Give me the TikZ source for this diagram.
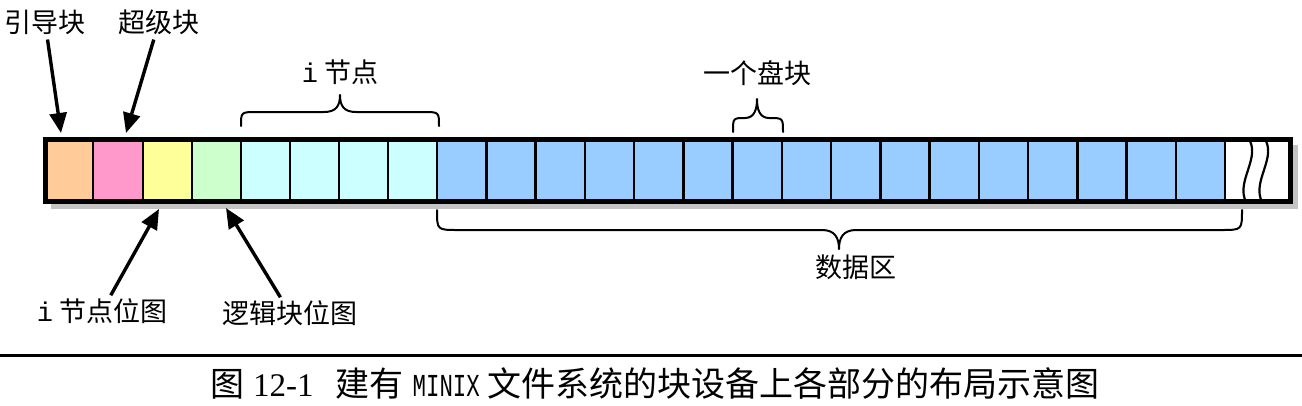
\documentclass[tikz,border=0pt]{standalone}
\usepackage{fontspec}
\setmainfont{Liberation Serif}
\newfontfamily\cjk{Noto Sans CJK SC}
\newfontfamily\monofam{Liberation Mono}
\usetikzlibrary{arrows.meta,calc}
\definecolor{cboot}{HTML}{FFCC99}
\definecolor{csuper}{HTML}{FF99CC}
\definecolor{cimap}{HTML}{FFFF99}
\definecolor{czmap}{HTML}{CCFFCC}
\definecolor{cinode}{HTML}{CCFFFF}
\definecolor{cdata}{HTML}{99CCFF}
\definecolor{cshadow}{HTML}{C4C4C4}
\tikzset{
  cellbox/.style={draw=black, line width=2.5pt},
  lbl/.style={font={\cjk\fontsize{27pt}{30pt}\selectfont}, inner sep=3pt},
  arr/.style={line width=3.4pt, -{Triangle[length=20pt,width=17pt]}},
  bracepath/.style={line width=2pt, line cap=round, line join=round},
  wave/.style={line width=2.2pt},
}
\begin{document}
\begin{tikzpicture}[x=1pt,y=-1pt]
\useasboundingbox (0,0) rectangle (1302,405);
% shadow
\fill[cshadow] (51,145) rectangle (1298,209);
% outer white background
\fill[white] (45.5,139.5) rectangle (1290,201.5);
% cells
\path[cellbox, fill=cboot]  (45.5,139.5) rectangle (93,201.5);
\node[inner sep=0, minimum width=47pt, minimum height=62pt] (c1) at (69.25,170.5) {};
\path[cellbox, fill=csuper] (93,139.5) rectangle (143,201.5);
\node[inner sep=0, minimum width=50pt, minimum height=62pt] (c2) at (118,170.5) {};
\path[cellbox, fill=cimap]  (143,139.5) rectangle (192,201.5);
\node[inner sep=0, minimum width=49pt, minimum height=62pt] (c3) at (167.5,170.5) {};
\path[cellbox, fill=czmap]  (192,139.5) rectangle (241,201.5);
\node[inner sep=0, minimum width=49pt, minimum height=62pt] (c4) at (216.5,170.5) {};
\foreach \i in {0,...,3} {
  \path[cellbox, fill=cinode] ({241+49*\i},139.5) rectangle ({290+49*\i},201.5);
}
\foreach \i in {0,...,15} {
  \path[cellbox, fill=cdata] ({437+49.25*\i},139.5) rectangle ({486.25+49.25*\i},201.5);
}
% wavy break lines
\draw[wave] (1250,141) .. controls (1259,160) and (1236,182) .. (1246,202);
\draw[wave] (1266,141) .. controls (1275,160) and (1252,182) .. (1262,202);
% outer frame
\draw[line width=5pt] (45.5,139.5) rectangle (1290,201.5);

% top labels and arrows
\node[lbl] (lboot) at (45,22) {引导块};
\node[lbl] (lsuper) at (159,22) {超级块};
\coordinate (tboot) at (61,133);
\coordinate (tsuper) at (126,133);
\draw[arr, shorten <=2pt] (lboot) -- (tboot);
\draw[arr, shorten <=2pt] (lsuper) -- (tsuper);

% bottom labels and arrows
\node[lbl] (limap) at (102,311) {{\monofam i} 节点位图};
\node[lbl] (lzmap) at (290,313) {逻辑块位图};
\coordinate (timap) at (159,209);
\coordinate (tzmap) at (226,208);
\draw[arr] (limap) -- (timap);
\draw[arr] (lzmap) -- (tzmap);

% i-node brace
\node[lbl] (linode) at (340,72) {{\monofam i} 节点};
\draw[bracepath] (241,126) .. controls (241,112) .. (257,112) -- (324,112)
  .. controls (336,112) and (340,106) .. (340,95)
  .. controls (340,106) and (344,112) .. (356,112) -- (423,112)
  .. controls (439,112) .. (439,126);

% one block brace
\node[lbl] (lblock) at (757,73) {一个盘块};
\draw[bracepath] (733,132) .. controls (733,118) .. (745,118)
  .. controls (754,118) and (757,110) .. (757,99)
  .. controls (757,110) and (760,118) .. (769,118)
  .. controls (783,118) .. (783,132);

% data brace
\node[lbl] (ldata) at (856,267) {数据区};
\draw[bracepath] (437,210) .. controls (437,230) .. (458,230) -- (822,230)
  .. controls (835,230) and (839,238) .. (839,249)
  .. controls (839,238) and (843,230) .. (856,230) -- (1221,230)
  .. controls (1242,230) .. (1242,210);

% caption rule and caption
\draw[line width=3pt] (0,355) -- (1302,355);
\node[font={\cjk\fontsize{34pt}{38pt}\selectfont}, inner sep=0] (cap) at (655,383)
  {图\hspace{9pt}{\rmfamily\fontsize{33pt}{36pt}\selectfont 12-1}\hspace{22pt}建有\hspace{9pt}{\monofam\fontsize{32pt}{35pt}\selectfont\scalebox{0.7}[1]{MINIX}}\hspace{8pt}文件系统的块设备上各部分的布局示意图};
\end{tikzpicture}
\end{document}
